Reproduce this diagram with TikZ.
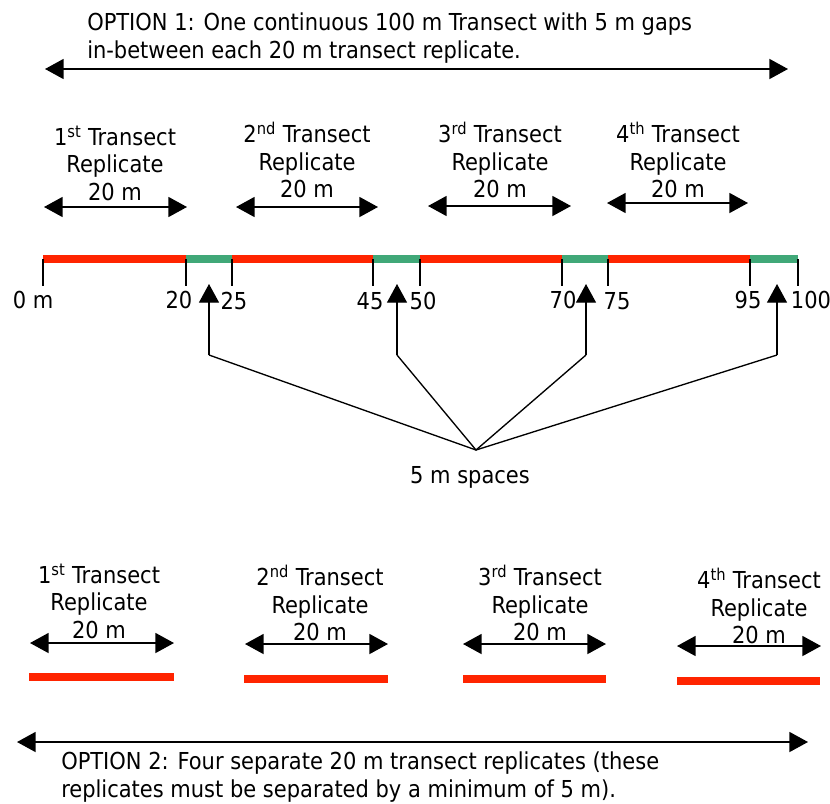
\documentclass[tikz,border=0pt]{standalone}
\usepackage{fontspec}
\setmainfont{DejaVu Sans Condensed}
\usetikzlibrary{arrows.meta, positioning}
\definecolor{rouge}{RGB}{255,36,0}
\definecolor{vert}{RGB}{64,168,120}
\tikzset{
  fleche/.style={{Triangle[length=14pt,width=15pt]}-{Triangle[length=14pt,width=15pt]}, line width=1.3pt},
  flechehaut/.style={-{Triangle[length=14pt,width=15pt]}, line width=1pt},
  texte/.style={font=\fontsize{17.5}{20.5}\selectfont, align=center, inner sep=0pt},
  segrouge/.style={rouge, line width=6pt},
  segvert/.style={vert, line width=6pt},
  trait/.style={line width=1pt}
}

\begin{document}
\begin{tikzpicture}[x=0.75pt, y=-0.75pt]
        \useasboundingbox (0,0) rectangle (830,803);

        % Option 1 : titre et grande fleche
        \node[texte, align=left, anchor=west] (titre1) at (87,38) {OPTION 1: One continuous 100 m Transect with 5 m gaps\\in-between each 20 m transect replicate.};
        \coordinate (g1) at (45,69);
        \coordinate (d1) at (788,69);
        \draw[fleche] (g1) -- (d1);

        % Etiquettes des replicats (option 1)
        \node[texte] (r1) at (115,163) {1\textsuperscript{st} Transect\\Replicate\\20 m};
        \node[texte] (r2) at (307,160) {2\textsuperscript{nd} Transect\\Replicate\\20 m};
        \node[texte] (r3) at (500,160) {3\textsuperscript{rd} Transect\\Replicate\\20 m};
        \node[texte] (r4) at (678,160) {4\textsuperscript{th} Transect\\Replicate\\20 m};
        \coordinate (r1g) at (44,207);  \coordinate (r1d) at (187,207);
        \coordinate (r2g) at (236,207); \coordinate (r2d) at (378,207);
        \coordinate (r3g) at (428,206); \coordinate (r3d) at (571,206);
        \coordinate (r4g) at (607,203); \coordinate (r4d) at (748,203);
        \draw[fleche] (r1g) -- (r1d);
        \draw[fleche] (r2g) -- (r2d);
        \draw[fleche] (r3g) -- (r3d);
        \draw[fleche] (r4g) -- (r4d);

        % Transect continu (rouge = replicat, vert = espace de 5 m)
        \coordinate (p0) at (43,259);
        \coordinate (p20) at (186,259);
        \coordinate (p25) at (232,259);
        \coordinate (p45) at (373,259);
        \coordinate (p50) at (420,259);
        \coordinate (p70) at (562,259);
        \coordinate (p75) at (608,259);
        \coordinate (p95) at (750,259);
        \coordinate (p100) at (798,259);
        \draw[segrouge] (p0) -- (p20);
        \draw[segvert] (p20) -- (p25);
        \draw[segrouge] (p25) -- (p45);
        \draw[segvert] (p45) -- (p50);
        \draw[segrouge] (p50) -- (p70);
        \draw[segvert] (p70) -- (p75);
        \draw[segrouge] (p75) -- (p95);
        \draw[segvert] (p95) -- (p100);

        % Graduations
        \draw[trait] (p0) -- ++(0,27);
        \draw[trait] (p20) -- ++(0,27);
        \draw[trait] (p25) -- ++(0,27);
        \draw[trait] (p45) -- ++(0,27);
        \draw[trait] (p50) -- ++(0,27);
        \draw[trait] (p70) -- ++(0,27);
        \draw[trait] (p75) -- ++(0,27);
        \draw[trait] (p95) -- ++(0,27);
        \draw[trait] (p100) -- ++(0,27);
        \node[texte] (l0) at (33,300) {0 m};
        \node[texte] (l20) at (179,300) {20};
        \node[texte] (l25) at (234,301) {25};
        \node[texte] (l45) at (370,301) {45};
        \node[texte] (l50) at (423,301) {50};
        \node[texte] (l70) at (563,300) {70};
        \node[texte] (l75) at (617,301) {75};
        \node[texte] (l95) at (748,300) {95};
        \node[texte] (l100) at (811,300) {100};

        % Fleches vers les espaces de 5 m
        \node[texte] (espaces) at (470,477) {5 m spaces};
        \coordinate (conv) at (476,450);
        \coordinate (b1) at (209,355); \coordinate (h1) at (209,284);
        \coordinate (b2) at (397,355); \coordinate (h2) at (397,284);
        \coordinate (b3) at (586,355); \coordinate (h3) at (586,284);
        \coordinate (b4) at (777,355); \coordinate (h4) at (777,284);
        \draw[flechehaut] (b1) -- (h1);
        \draw[flechehaut] (b2) -- (h2);
        \draw[flechehaut] (b3) -- (h3);
        \draw[flechehaut] (b4) -- (h4);
        \draw[trait] (b1) -- (conv) -- (b4);
        \draw[trait] (b2) -- (conv) -- (b3);

        % Option 2 : replicats separes
        \node[texte] (s1) at (99,601) {1\textsuperscript{st} Transect\\Replicate\\20 m};
        \node[texte] (s2) at (320,603) {2\textsuperscript{nd} Transect\\Replicate\\20 m};
        \node[texte] (s3) at (540,603) {3\textsuperscript{rd} Transect\\Replicate\\20 m};
        \node[texte] (s4) at (759,606) {4\textsuperscript{th} Transect\\Replicate\\20 m};
        \coordinate (s1g) at (30,643);  \coordinate (s1d) at (174,643);
        \coordinate (s2g) at (245,644); \coordinate (s2d) at (388,644);
        \coordinate (s3g) at (463,644); \coordinate (s3d) at (606,644);
        \coordinate (s4g) at (677,646); \coordinate (s4d) at (821,646);
        \draw[fleche] (s1g) -- (s1d);
        \draw[fleche] (s2g) -- (s2d);
        \draw[fleche] (s3g) -- (s3d);
        \draw[fleche] (s4g) -- (s4d);
        \draw[segrouge] (29,677) -- (174,677);
        \draw[segrouge] (244,679) -- (388,679);
        \draw[segrouge] (463,679) -- (606,679);
        \draw[segrouge] (677,681) -- (820,681);

        % Grande fleche et texte de l'option 2
        \coordinate (g2) at (17,742);
        \coordinate (d2) at (808,742);
        \draw[fleche] (g2) -- (d2);
        \node[texte, align=left, anchor=west] (titre2) at (61,777) {OPTION 2: Four separate 20 m transect replicates (these\\replicates must be separated by a minimum of 5 m).};

\end{tikzpicture}
\end{document}
